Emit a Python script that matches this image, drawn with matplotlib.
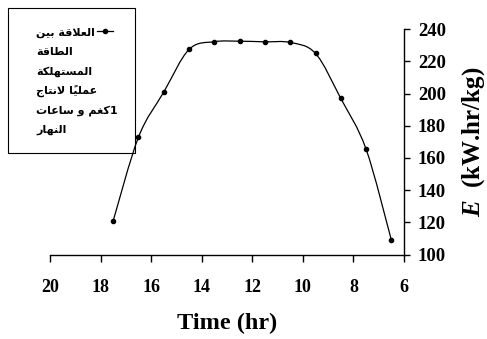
import matplotlib.pyplot as plt
from matplotlib.path import Path
from matplotlib.patches import PathPatch, Rectangle
from matplotlib.lines import Line2D

# data
hours = [17.5, 16.5, 15.5, 14.5, 13.5, 12.5, 11.5, 10.5, 9.5, 8.5, 7.5, 6.5]
energy = [121, 173, 201, 227.5, 232.3, 232.6, 232.2, 231.8, 225, 197, 165.5, 109]
x_ticks = [20, 18, 16, 14, 12, 10, 8, 6]
y_ticks = [100, 120, 140, 160, 180, 200, 220, 240]
legend_lines = ["العلاقة بين", "الطاقة", "المستهلكة", "عملياً لانتاج", "1كغم و ساعات", "النهار"]

plt.rcParams['mathtext.fontset'] = 'custom'
plt.rcParams['mathtext.it'] = 'Liberation Serif:italic:bold'
plt.rcParams['mathtext.rm'] = 'Liberation Serif:bold'

# --- tiny arabic shaper (matplotlib has no bidi / shaping) ---
FORMS = {
    'ا': ('\uFE8D', '\uFE8E', None, None),
    'ب': ('\uFE8F', '\uFE90', '\uFE91', '\uFE92'),
    'ة': ('\uFE93', '\uFE94', None, None),
    'ت': ('\uFE95', '\uFE96', '\uFE97', '\uFE98'),
    'ج': ('\uFE9D', '\uFE9E', '\uFE9F', '\uFEA0'),
    'ر': ('\uFEAD', '\uFEAE', None, None),
    'س': ('\uFEB1', '\uFEB2', '\uFEB3', '\uFEB4'),
    'ط': ('\uFEC1', '\uFEC2', '\uFEC3', '\uFEC4'),
    'ع': ('\uFEC9', '\uFECA', '\uFECB', '\uFECC'),
    'غ': ('\uFECD', '\uFECE', '\uFECF', '\uFED0'),
    'ق': ('\uFED5', '\uFED6', '\uFED7', '\uFED8'),
    'ك': ('\uFED9', '\uFEDA', '\uFEDB', '\uFEDC'),
    'ل': ('\uFEDD', '\uFEDE', '\uFEDF', '\uFEE0'),
    'م': ('\uFEE1', '\uFEE2', '\uFEE3', '\uFEE4'),
    'ن': ('\uFEE5', '\uFEE6', '\uFEE7', '\uFEE8'),
    'ه': ('\uFEE9', '\uFEEA', '\uFEEB', '\uFEEC'),
    'و': ('\uFEED', '\uFEEE', None, None),
    'ي': ('\uFEF1', '\uFEF2', '\uFEF3', '\uFEF4'),
}
MARKS = '\u064B'


def visual(text):
    # shape letters, then reverse the whole line (right-to-left display)
    res = []
    n = len(text)
    i = 0
    while i < n:
        c = text[i]
        if c not in FORMS:
            res.append(c)
            i += 1
            continue
        j = i - 1
        while j >= 0 and text[j] in MARKS:
            j -= 1
        prev_join = j >= 0 and text[j] in FORMS and FORMS[text[j]][2] is not None
        k = i + 1
        while k < n and text[k] in MARKS:
            k += 1
        nxt = text[k] if k < n else ''
        if c == 'ل' and nxt == 'ا':
            res.append('\uFEFC' if prev_join else '\uFEFB')
            i = k + 1
            continue
        iso, fin, ini, med = FORMS[c]
        next_join = nxt in FORMS and ini is not None
        if prev_join and next_join:
            res.append(med)
        elif prev_join:
            res.append(fin)
        elif next_join:
            res.append(ini)
        else:
            res.append(iso)
        i += 1
    clusters = []
    for ch in res:
        if ch in MARKS and clusters:
            clusters[-1] += ch
        else:
            clusters.append(ch)
    return ''.join(clusters[::-1])


fig = plt.figure(figsize=(4.87, 3.39), dpi=100)
ax = fig.add_axes([50 / 487, 1 - 254.5 / 339, 354 / 487, 225.2 / 339])

# smooth curve (catmull-rom -> cubic bezier)
pts = list(zip(hours, energy))
verts = [pts[0]]
codes = [Path.MOVETO]
for i in range(len(pts) - 1):
    p0 = pts[i - 1] if i > 0 else pts[i]
    p1 = pts[i]
    p2 = pts[i + 1]
    p3 = pts[i + 2] if i + 2 < len(pts) else pts[i + 1]
    c1 = (p1[0] + (p2[0] - p0[0]) / 6, p1[1] + (p2[1] - p0[1]) / 6)
    c2 = (p2[0] - (p3[0] - p1[0]) / 6, p2[1] - (p3[1] - p1[1]) / 6)
    verts += [c1, c2, p2]
    codes += [Path.CURVE4] * 3
ax.add_patch(PathPatch(Path(verts, codes), fill=False, edgecolor='black', lw=0.9))
ax.plot(hours, energy, linestyle='none', marker='o', color='black', markersize=3)

ax.set_xlim(20, 6)
ax.set_ylim(100, 240)
ax.set_xticks(x_ticks)
ax.set_yticks(y_ticks)

ax.spines['top'].set_visible(False)
ax.spines['left'].set_visible(False)
ax.spines['right'].set_linewidth(1)
ax.spines['bottom'].set_linewidth(1)
ax.yaxis.tick_right()
ax.yaxis.set_label_position('right')
ax.tick_params(axis='x', length=5, width=1, pad=12.5, labelsize=13)
ax.tick_params(axis='y', length=4, width=1, pad=6, labelsize=13.5)
for lab in ax.get_xticklabels() + ax.get_yticklabels():
    lab.set_fontfamily('Liberation Serif')
    lab.set_fontweight('bold')

ax.set_xlabel('Time (hr)', fontsize=17.5, fontweight='bold', fontfamily='Liberation Serif')
ax.xaxis.set_label_coords(0.5, -0.26)
ax.set_ylabel(r'$\it{E}$  (kW.hr/kg)', fontsize=18, fontweight='bold',
              fontfamily='Liberation Serif', rotation=90)
ax.yaxis.set_label_coords(1.16, 0.5)

# legend box drawn by hand (handle sits next to first line)
fig.patches.append(Rectangle((8 / 487, 1 - 153 / 339), 127 / 487, 145 / 339,
                             transform=fig.transFigure, fill=False,
                             edgecolor='black', lw=0.8))
for n, line in enumerate(legend_lines):
    fig.text(36 / 487, 1 - (33 + n * 19.4) / 339, visual(line), ha='left', va='center',
             fontsize=8, fontweight='bold', family=['DejaVu Sans'])
fig.lines.append(Line2D([97 / 487, 105 / 487, 113 / 487], [1 - 31 / 339] * 3,
                        transform=fig.transFigure, color='black', lw=0.9,
                        marker='o', markersize=3, markevery=[1]))

fig.savefig('out.png', dpi=100)
